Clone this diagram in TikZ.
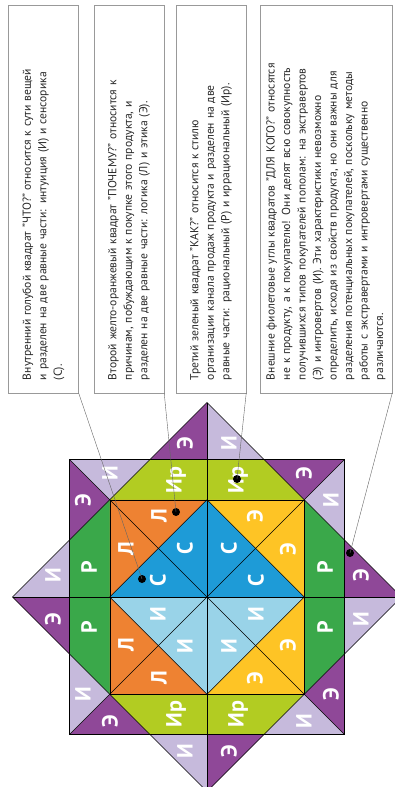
\documentclass[tikz,border=0pt]{standalone}
\usepackage{fontspec}
\setmainfont{PT Sans}
\usepackage{tikz}
\usepackage{color}
\definecolor{cvio}{RGB}{143,72,152}
\definecolor{clav}{RGB}{198,186,220}
\definecolor{cir}{RGB}{178,204,34}
\definecolor{cgr}{RGB}{58,168,74}
\definecolor{cor}{RGB}{238,130,50}
\definecolor{cye}{RGB}{254,196,37}
\definecolor{cbl}{RGB}{30,155,215}
\definecolor{clb}{RGB}{153,211,232}

\begin{document}
\begin{tikzpicture}[x=1pt,y=-1pt,
    box/.style={draw=black!40, rotate=90, text width=362pt, minimum width=388pt,
      minimum height=70pt, inner sep=0pt, align=left, text=black!85,
      font=\fontsize{11.6}{15.5}\selectfont},
    lab/.style={rotate=90, text=white, inner sep=0pt, font=\bfseries\fontsize{22}{22}\selectfont},
    dot/.style={circle, fill=black, inner sep=0pt, minimum size=8pt},
    callout/.style={black!60, thin},
    edge/.style={semithick}]
  \useasboundingbox (0,0) rectangle (395,787);

  \node (what) at (43.5,199) [box] {Внутренний голубой квадрат "ЧТО?" относится к сути вещей\\
    и разделен на две равные части: интуиция (И) и сенсорика\\ (С).};
  \node (why) at (129,199) [box] {Второй желто-оранжевый квадрат "ПОЧЕМУ?" относится к\\
    причинам, побуждающим к покупке этого продукта, и\\
    разделен на две равные части: логика (Л) и этика (Э).};
  \node (how) at (211,199) [box] {Третий зеленый квадрат "КАК?" относится к стилю\\
    организации канала продаж продукта и разделен на две\\
    равные части: рациональный (Р) и иррациональный (Ир).};
  \node (whom) at (326,199) [box, minimum height=132pt] {Внешние фиолетовые углы квадратов "ДЛЯ КОГО?" относятся\\
    не к продукту, а к покупателю! Они делят всю совокупность\\
    получившихся типов покупателей пополам: на экстравертов\\
    (Э) и интровертов (И). Эти характеристики невозможно\\
    определить, исходя из свойств продукта, но они важны для\\
    разделения потенциальных покупателей, поскольку методы\\
    работы с экстравертами и интровертами существенно\\
    различаются.};

  \begin{scope}[shift={(207,597)}]
    \foreach \r/\n in {0/t,90/r,180/b,270/l} {
      \begin{scope}[rotate=-\r]
        \fill[cvio] (0,-194.5) -- (-57,-137.5) -- (0,-137.5) -- cycle;
        \fill[clav] (0,-194.5) -- (57,-137.5) -- (0,-137.5) -- cycle;
        \fill[cvio] (137.5,-137.5) -- (57,-137.5) -- (97.2,-97.2) -- cycle;
        \fill[clav] (137.5,-137.5) -- (137.5,-57) -- (97.2,-97.2) -- cycle;
        \node (ea\n) at (-22,-154) [lab] {Э};
        \node (ia\n) at (22,-154) [lab] {И};
        \node (eb\n) at (97,-124) [lab] {Э};
        \node (ib\n) at (124,-97) [lab] {И};
      \end{scope}
    }
    \fill[cir] (-97.2,-97.2) -- (97.2,-97.2) -- (57,-137.5) -- (-57,-137.5) -- cycle;
    \fill[cir] (-97.2,97.2) -- (97.2,97.2) -- (57,137.5) -- (-57,137.5) -- cycle;
    \fill[cgr] (-97.2,-97.2) -- (-97.2,97.2) -- (-137.5,57) -- (-137.5,-57) -- cycle;
    \fill[cgr] (97.2,-97.2) -- (97.2,97.2) -- (137.5,57) -- (137.5,-57) -- cycle;
    \fill[cor] (-97.2,-97.2) -- (0,-97.2) -- (-97.2,0) -- (0,97.2) -- (-97.2,97.2) -- cycle;
    \fill[cye] (97.2,-97.2) -- (0,-97.2) -- (97.2,0) -- (0,97.2) -- (97.2,97.2) -- cycle;
    \fill[cbl] (-97.2,0) -- (0,-97.2) -- (97.2,0) -- cycle;
    \fill[clb] (-97.2,0) -- (0,97.2) -- (97.2,0) -- cycle;

    \draw[edge] (0,-194.5) -- (194.5,0) -- (0,194.5) -- (-194.5,0) -- cycle;
    \draw[edge] (-137.5,-137.5) rectangle (137.5,137.5);
    \draw[edge] (-97.2,-97.2) rectangle (97.2,97.2);
    \draw[edge] (0,-97.2) -- (97.2,0) -- (0,97.2) -- (-97.2,0) -- cycle;
    \draw[edge] (0,-194.5) -- (0,194.5)  (-194.5,0) -- (194.5,0);
    \draw[edge] (-137.5,-137.5) -- (137.5,137.5)  (-137.5,137.5) -- (137.5,-137.5);

    \foreach \x/\y [count=\i] in {-31/-117,31/-117,-31/117,31/117}
      \node (ir\i) at (\x,\y) [lab] {Ир};
    \foreach \x/\y [count=\i] in {-118/-30,-118/30,118/-30,118/30}
      \node (p\i) at (\x,\y) [lab] {Р};
    \foreach \x/\y [count=\i] in {-48/-81,-81/-48,-81/48,-48/81}
      \node (l\i) at (\x,\y) [lab] {Л};
    \foreach \x/\y [count=\i] in {48/-81,81/-48,81/48,48/81}
      \node (ey\i) at (\x,\y) [lab] {Э};
    \foreach \x/\y [count=\i] in {-49/-17,-22/-49,22/-49,49/-17}
      \node (s\i) at (\x,\y) [lab] {С};
    \foreach \x/\y [count=\i] in {-49/17,-22/49,22/49,49/17}
      \node (il\i) at (\x,\y) [lab] {И};

    \node (dwhat) at (-65,-18) [dot] {};
    \node (dwhy) at (-31,-85) [dot] {};
    \node (dhow) at (30,-118) [dot] {};
    \node (dwhom) at (143,-44) [dot] {};
  \end{scope}

  \draw[callout] (what.south west) -- (dwhat.center);
  \draw[callout] (why.south west) -- (dwhy.center);
  \draw[callout] (how.south west) -- (dhow.center);
  \draw[callout] (whom.south west) -- (dwhom.center);
\end{tikzpicture}
\end{document}
